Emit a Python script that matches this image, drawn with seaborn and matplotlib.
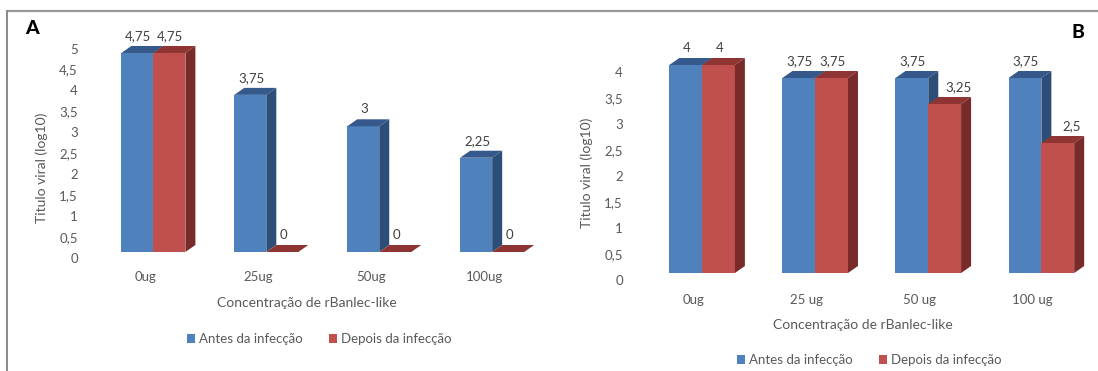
import numpy as np
import pandas as pd
import seaborn as sns
import matplotlib
matplotlib.use("Agg")
import matplotlib.pyplot as plt
from matplotlib.patches import Polygon, Patch
from matplotlib.lines import Line2D
from matplotlib.transforms import ScaledTranslation

# ---- data -------------------------------------------------------------
fases = ["Antes da infecção", "Depois da infecção"]

concs_a = ["0ug", "25ug", "50ug", "100ug"]
antes_a = [4.75, 3.75, 3, 2.25]
depois_a = [4.75, 0, 0, 0]

concs_b = ["0ug", "25 ug", "50 ug", "100 ug"]
antes_b = [4, 3.75, 3.75, 3.75]
depois_b = [4, 3.75, 3.25, 2.5]

yticks_a = [0, 0.5, 1, 1.5, 2, 2.5, 3, 3.5, 4, 4.5, 5]
yticks_b = [0, 0.5, 1, 1.5, 2, 2.5, 3, 3.5, 4]

xlabel = "Concentração de rBanlec-like"
ylabel = "Titulo viral (log10)"

# ---- style ------------------------------------------------------------
sns.set_theme(style="white")
plt.rcParams["font.family"] = ["Lato", "DejaVu Sans"]

W, H, DPI = 1098, 371, 100
TXT = "#595959"
FRONT = ["#4F81BD", "#C0504D"]
TOP = ["#35598A", "#8E3533"]
SIDE = ["#2E4E7A", "#782B29"]
DEPTH_X, DEPTH_Y = 10, 7  # px

fig = plt.figure(figsize=(W / DPI, H / DPI), dpi=DPI)
fig.patch.set_facecolor("white")


def fmt(v):
    return f"{v:g}".replace(".", ",")


def px_axes(left, right, top, bottom):
    return fig.add_axes([left / W, (H - bottom) / H, (right - left) / W, (bottom - top) / H])


def shift(artist, dx_px, dy_px):
    artist.set_transform(artist.get_transform()
                         + ScaledTranslation(dx_px / DPI, dy_px / DPI, fig.dpi_scale_trans))


def panel(ax, concs, antes, depois, yticks, xlim, ylim, width, tick_shift,
          xtick_pad, xlabel_xy, ylabel_xy, legend_xy, letter_xy, letter):
    df = pd.DataFrame({
        "conc": concs * 2,
        "fase": [fases[0]] * len(concs) + [fases[1]] * len(concs),
        "titulo": list(antes) + list(depois),
    })
    sns.barplot(data=df, x="conc", y="titulo", hue="fase", order=concs,
                hue_order=fases, palette=FRONT, saturation=1, width=width,
                gap=0, legend=False, ax=ax, linewidth=0, errorbar=None)
    ax.set_xlim(*xlim)
    ax.set_ylim(*ylim)

    # pixel -> data scale, used for the extruded faces
    bbox = ax.get_window_extent()
    ux = (xlim[1] - xlim[0]) / bbox.width
    uy = (ylim[1] - ylim[0]) / bbox.height
    ddx, ddy = DEPTH_X * ux, DEPTH_Y * uy

    blue_heights = [r.get_height() for r in ax.containers[0].patches]
    for k, cont in enumerate(ax.containers):
        for i, rect in enumerate(cont.patches):
            x0, w, h = rect.get_x(), rect.get_width(), rect.get_height()
            rect.set_zorder(2 + 2 * k)
            top = Polygon([(x0, h), (x0 + ddx, h + ddy), (x0 + w + ddx, h + ddy), (x0 + w, h)],
                          closed=True, facecolor=TOP[k], edgecolor="none",
                          zorder=2.5 + 2 * k, clip_on=False)
            side = Polygon([(x0 + w, 0), (x0 + w + ddx, ddy), (x0 + w + ddx, h + ddy), (x0 + w, h)],
                           closed=True, facecolor=SIDE[k], edgecolor="none",
                           zorder=2.6 + 2 * k, clip_on=False)
            ax.add_patch(top)
            ax.add_patch(side)
            # a lower red bar has its label pushed clear of the blue side face
            dx = 14 if (k == 1 and 0 < h < blue_heights[i]) else 1
            ax.annotate(fmt(h), (x0 + w / 2, h), xytext=(dx, 17), textcoords="offset pixels",
                        ha="center", va="center", fontsize=9.5, color="#404040",
                        zorder=10, annotation_clip=False)

    ax.set_yticks(yticks)
    ax.set_yticklabels([fmt(t) for t in yticks])
    ax.tick_params(axis="y", length=0, pad=3, labelsize=9.5, labelcolor=TXT)
    ax.tick_params(axis="x", length=0, pad=xtick_pad, labelsize=9.5, labelcolor=TXT)
    for lab in ax.get_yticklabels():
        shift(lab, 0, -tick_shift[1])
    for lab in ax.get_xticklabels():
        shift(lab, tick_shift[0], 0)

    for s in ax.spines.values():
        s.set_visible(False)
    ax.grid(False)
    ax.set_facecolor("none")

    ax.set_xlabel(xlabel, fontsize=10, color=TXT, va="center")
    ax.xaxis.set_label_coords(*xlabel_xy)
    ax.set_ylabel(ylabel, fontsize=10, color=TXT, va="center")
    ax.yaxis.set_label_coords(*ylabel_xy)

    handles = [Patch(facecolor=c, edgecolor="none") for c in FRONT]
    fig.legend(handles, fases, loc="center",
               bbox_to_anchor=(legend_xy[0] / W, (H - legend_xy[1]) / H),
               ncol=2, frameon=False, fontsize=9.5, labelcolor=TXT,
               handlelength=0.6, handleheight=0.6, handletextpad=0.3,
               columnspacing=2.0)

    fig.text(letter_xy[0] / W, (H - letter_xy[1]) / H, letter, ha="center", va="center",
             fontsize=14, fontweight="black", color="black")


# ---- panel A ----------------------------------------------------------
ax_a = px_axes(82, 543, 42.5, 252)
panel(ax_a, concs_a, antes_a, depois_a, yticks_a,
      xlim=(-0.632, 3.45), ylim=(0, 5), width=0.567, tick_shift=(-8, 6),
      xtick_pad=14, xlabel_xy=(0.488, -0.245), ylabel_xy=(-0.087, 0.40),
      legend_xy=(319, 339), letter_xy=(32, 29), letter="A")

# ---- panel B ----------------------------------------------------------
ax_b = px_axes(627, 1090, 54.6, 273)
panel(ax_b, concs_b, antes_b, depois_b, yticks_b,
      xlim=(-0.664, 3.43), ylim=(0, 4.2), width=0.58, tick_shift=(-9, 7),
      xtick_pad=15, xlabel_xy=(0.51, -0.238), ylabel_xy=(-0.086, 0.458),
      legend_xy=(869, 360), letter_xy=(1078, 33), letter="B")

# ---- outer frame ------------------------------------------------------
fig.add_artist(Line2D([7 / W, 1.0], [(H - 11) / H] * 2, color="#9a9a9a", lw=1.6))
fig.add_artist(Line2D([7 / W, 7 / W], [0, (H - 11) / H], color="#8a8a8a", lw=1.4))

fig.savefig("out.png", dpi=DPI, facecolor="white")
